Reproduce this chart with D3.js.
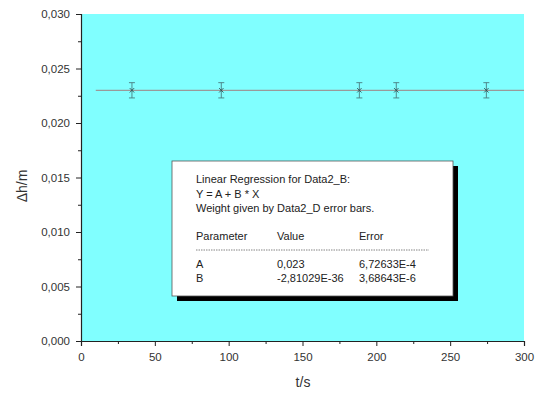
<!DOCTYPE html>
<html>
<head>
<meta charset="utf-8">
<script src="https://cdn.jsdelivr.net/npm/d3@7"></script>
<style>
  body { margin: 0; background: #fff; }
  svg { display: block; font-family: Arial, "Liberation Sans", sans-serif; }
</style>
</head>
<body>
<svg id="chart" width="545" height="396"></svg>
<script>
// measured points
var tValues = [34.5, 95, 188.5, 213.5, 274.5];
var hValues = [0.023, 0.023, 0.023, 0.023, 0.023];
var hErrors = [0.0007, 0.0007, 0.0007, 0.0007, 0.0007];

// fit line Y = A + B*X
var fitA = 0.023, fitB = -2.81029e-36;
var fitRange = [10, 300];

var xTicks = [0, 50, 100, 150, 200, 250, 300];
var yTicks = [0, 0.005, 0.010, 0.015, 0.020, 0.025, 0.030];

var legendHead = ["Linear Regression for Data2_B:", "Y = A + B * X", "Weight given by Data2_D error bars."];
var legendCols = ["Parameter", "Value", "Error"];
var legendRows = [["A", "0,023", "6,72633E-4"], ["B", "-2,81029E-36", "3,68643E-6"]];

var svg = d3.select("#chart");
var margin = {left: 81, right: 21, top: 14, bottom: 55};
var W = 545, H = 396;

var x = d3.scaleLinear().domain([0, 300]).range([margin.left, W - margin.right]);
var y = d3.scaleLinear().domain([0, 0.030]).range([H - margin.bottom, margin.top]);

var comma = function(f) { return function(d) { return d3.format(f)(d).replace(".", ","); }; };

// plot background
svg.append("rect")
  .attr("x", x(0)).attr("y", y(0.030))
  .attr("width", x(300) - x(0)).attr("height", y(0) - y(0.030))
  .attr("fill", "#80ffff");

// regression line
svg.append("line")
  .attr("x1", x(fitRange[0])).attr("x2", x(fitRange[1]))
  .attr("y1", y(fitA + fitB * fitRange[0])).attr("y2", y(fitA + fitB * fitRange[1]))
  .attr("stroke", "#9a9a9a").attr("stroke-width", 1.2);

// error bars and markers
var pts = tValues.map(function(t, i) { return {t: t, h: hValues[i], e: hErrors[i]}; });
var g = svg.append("g").attr("stroke", "#4a7d80").attr("stroke-width", 0.9).attr("fill", "none");
var pg = g.selectAll("g").data(pts).enter().append("g");
pg.append("line")
  .attr("x1", function(d) { return x(d.t); }).attr("x2", function(d) { return x(d.t); })
  .attr("y1", function(d) { return y(d.h + d.e); }).attr("y2", function(d) { return y(d.h - d.e); });
pg.append("line")
  .attr("x1", function(d) { return x(d.t) - 3; }).attr("x2", function(d) { return x(d.t) + 3; })
  .attr("y1", function(d) { return y(d.h + d.e); }).attr("y2", function(d) { return y(d.h + d.e); });
pg.append("line")
  .attr("x1", function(d) { return x(d.t) - 3; }).attr("x2", function(d) { return x(d.t) + 3; })
  .attr("y1", function(d) { return y(d.h - d.e); }).attr("y2", function(d) { return y(d.h - d.e); });
pg.append("path")
  .attr("d", function(d) {
    var cx = x(d.t), cy = y(d.h), s = 2.2;
    return "M" + (cx - s) + "," + (cy - s) + "L" + (cx + s) + "," + (cy + s) +
           "M" + (cx - s) + "," + (cy + s) + "L" + (cx + s) + "," + (cy - s);
  })
  .attr("stroke", "#2f5052");

// axes
svg.append("g").attr("transform", "translate(0," + y(0) + ")")
  .call(d3.axisBottom(x).tickValues(xTicks).tickFormat(d3.format("d")).tickSize(5).tickPadding(7));
svg.append("g").attr("transform", "translate(0," + y(0) + ")")
  .call(d3.axisBottom(x).tickValues(d3.range(25, 300, 50)).tickFormat("").tickSize(3))
  .select(".domain").remove();

svg.append("g").attr("transform", "translate(" + x(0) + ",0)")
  .call(d3.axisLeft(y).tickValues(yTicks).tickFormat(comma(".3f")).tickSize(5).tickPadding(6));
svg.append("g").attr("transform", "translate(" + x(0) + ",0)")
  .call(d3.axisLeft(y).tickValues(d3.range(0.0025, 0.030, 0.005)).tickFormat("").tickSize(3))
  .select(".domain").remove();

svg.selectAll(".domain").attr("stroke", "#222").attr("stroke-width", 1.2);
svg.selectAll(".tick line").attr("stroke", "#222").attr("stroke-width", 1);
svg.selectAll(".tick text").attr("fill", "#333").style("font-size", "11.5px").style("font-family", "Arial, 'Liberation Sans', sans-serif");

// axis titles
svg.append("text").attr("x", 303).attr("y", 387).attr("text-anchor", "middle")
  .attr("fill", "#333").style("font-size", "14px").text("t/s");
svg.append("text").attr("transform", "translate(27,186) rotate(-90)")
  .attr("text-anchor", "middle").attr("fill", "#333").style("font-size", "14px").text("\u0394h/m");

// regression legend box
var bx = 172, by = 161, bw = 281, bh = 135;
svg.append("rect").attr("x", bx + 5).attr("y", by + 5).attr("width", bw).attr("height", bh).attr("fill", "#000");
svg.append("rect").attr("x", bx).attr("y", by).attr("width", bw).attr("height", bh)
  .attr("fill", "#fff").attr("stroke", "#555").attr("stroke-width", 0.8);

var lg = svg.append("g").attr("fill", "#222").style("font-size", "11px");
var colX = [196, 277, 359];
legendHead.forEach(function(s, i) {
  lg.append("text").attr("x", colX[0]).attr("y", 183 + i * 14.5).text(s);
});
legendCols.forEach(function(s, i) {
  lg.append("text").attr("x", colX[i]).attr("y", 240).text(s);
});
svg.append("line").attr("x1", 196).attr("x2", 429).attr("y1", 250).attr("y2", 250)
  .attr("stroke", "#666").attr("stroke-width", 0.8).attr("stroke-dasharray", "1.5,1");
legendRows.forEach(function(r, j) {
  r.forEach(function(s, i) {
    lg.append("text").attr("x", colX[i]).attr("y", 268 + j * 13.7).text(s);
  });
});
</script>
</body>
</html>
